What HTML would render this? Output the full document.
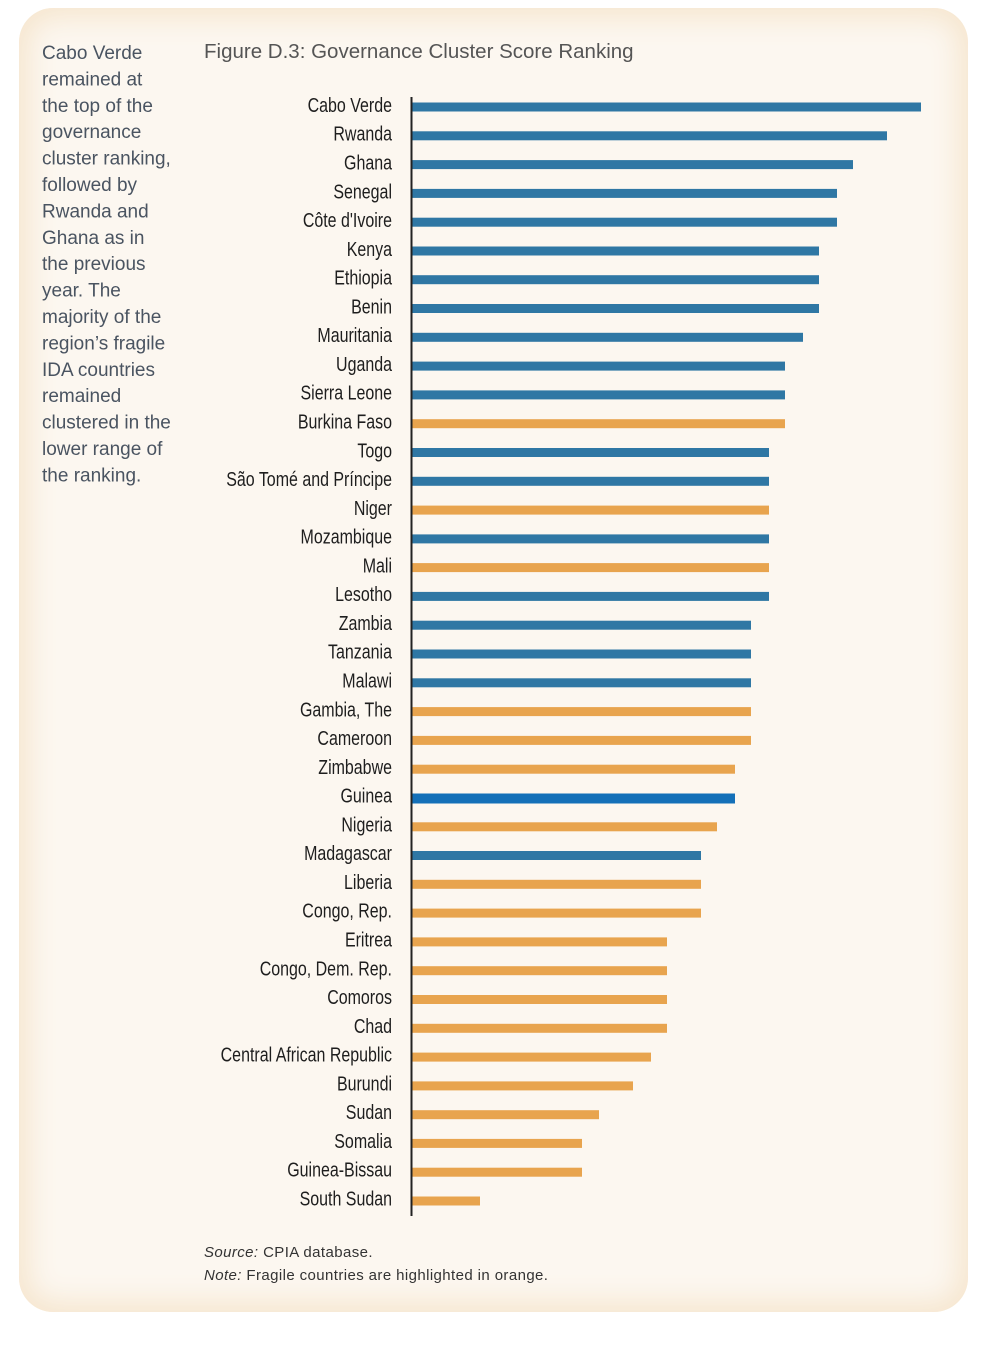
<!DOCTYPE html>
<html><head><meta charset="utf-8"><style>
html,body{margin:0;padding:0;background:#fff;}
body{width:986px;height:1351px;position:relative;overflow:hidden;}
.panel{position:absolute;left:19px;top:8px;width:949px;height:1304px;border-radius:34px;background:#fcf7f0;box-shadow:inset 0 0 28px 10px #f6e6cf;}
svg{position:absolute;left:0;top:0;}
</style></head><body>
<div class="panel"></div>
<svg width="986" height="1351" xmlns="http://www.w3.org/2000/svg" font-family="'Liberation Sans', sans-serif">
<g fill="#4a5461" font-size="19">
<text x="42" y="59">Cabo Verde</text>
<text x="42" y="85.4">remained at</text>
<text x="42" y="111.8">the top of the</text>
<text x="42" y="138.2">governance</text>
<text x="42" y="164.6">cluster ranking,</text>
<text x="42" y="191">followed by</text>
<text x="42" y="217.4">Rwanda and</text>
<text x="42" y="243.8">Ghana as in</text>
<text x="42" y="270.2">the previous</text>
<text x="42" y="296.6">year. The</text>
<text x="42" y="323">majority of the</text>
<text x="42" y="349.4">region’s fragile</text>
<text x="42" y="375.8">IDA countries</text>
<text x="42" y="402.2">remained</text>
<text x="42" y="428.6">clustered in the</text>
<text x="42" y="455">lower range of</text>
<text x="42" y="481.4">the ranking.</text>
</g>
<text x="204" y="58" fill="#555" font-size="20.5">Figure D.3: Governance Cluster Score Ranking</text>
<g fill="#2f77a4">
<rect x="412" y="102.5" width="509" height="9"/>
<rect x="412" y="131.3" width="475" height="9"/>
<rect x="412" y="160.1" width="441" height="9"/>
<rect x="412" y="188.9" width="425" height="9"/>
<rect x="412" y="217.7" width="425" height="9"/>
<rect x="412" y="246.5" width="407" height="9"/>
<rect x="412" y="275.2" width="407" height="9"/>
<rect x="412" y="304" width="407" height="9"/>
<rect x="412" y="332.8" width="391" height="9"/>
<rect x="412" y="361.6" width="373" height="9"/>
<rect x="412" y="390.4" width="373" height="9"/>
<rect x="412" y="448" width="357" height="9"/>
<rect x="412" y="476.8" width="357" height="9"/>
<rect x="412" y="534.4" width="357" height="9"/>
<rect x="412" y="591.9" width="357" height="9"/>
<rect x="412" y="620.7" width="339" height="9"/>
<rect x="412" y="649.5" width="339" height="9"/>
<rect x="412" y="678.3" width="339" height="9"/>
<rect x="412" y="851" width="289" height="9"/>
</g>
<rect x="412" y="793.5" width="323" height="10" fill="#1470b8"/>
<g fill="#e8a44e">
<rect x="412" y="419.2" width="373" height="9"/>
<rect x="412" y="505.6" width="357" height="9"/>
<rect x="412" y="563.1" width="357" height="9"/>
<rect x="412" y="707.1" width="339" height="9"/>
<rect x="412" y="735.9" width="339" height="9"/>
<rect x="412" y="764.7" width="323" height="9"/>
<rect x="412" y="822.3" width="305" height="9"/>
<rect x="412" y="879.8" width="289" height="9"/>
<rect x="412" y="908.6" width="289" height="9"/>
<rect x="412" y="937.4" width="255" height="9"/>
<rect x="412" y="966.2" width="255" height="9"/>
<rect x="412" y="995" width="255" height="9"/>
<rect x="412" y="1023.8" width="255" height="9"/>
<rect x="412" y="1052.6" width="239" height="9"/>
<rect x="412" y="1081.4" width="221" height="9"/>
<rect x="412" y="1110.2" width="187" height="9"/>
<rect x="412" y="1138.9" width="170" height="9"/>
<rect x="412" y="1167.7" width="170" height="9"/>
<rect x="412" y="1196.5" width="68" height="9"/>
</g>
<rect x="410.5" y="97" width="2" height="1119" fill="#222"/>
<g transform="translate(392,-2) scale(0.78,1.05)" fill="#1e1e1e" font-size="20.5" text-anchor="end">
<g transform="scale(1,0.952)">
<text x="0" y="114">Cabo Verde</text>
<text x="0" y="142.8">Rwanda</text>
<text x="0" y="171.6">Ghana</text>
<text x="0" y="200.4">Senegal</text>
<text x="0" y="229.2">Côte d'Ivoire</text>
<text x="0" y="258">Kenya</text>
<text x="0" y="286.7">Ethiopia</text>
<text x="0" y="315.5">Benin</text>
<text x="0" y="344.3">Mauritania</text>
<text x="0" y="373.1">Uganda</text>
<text x="0" y="401.9">Sierra Leone</text>
<text x="0" y="430.7">Burkina Faso</text>
<text x="0" y="459.5">Togo</text>
<text x="0" y="488.3">São Tomé and Príncipe</text>
<text x="0" y="517.1">Niger</text>
<text x="0" y="545.9">Mozambique</text>
<text x="0" y="574.6">Mali</text>
<text x="0" y="603.4">Lesotho</text>
<text x="0" y="632.2">Zambia</text>
<text x="0" y="661">Tanzania</text>
<text x="0" y="689.8">Malawi</text>
<text x="0" y="718.6">Gambia, The</text>
<text x="0" y="747.4">Cameroon</text>
<text x="0" y="776.2">Zimbabwe</text>
<text x="0" y="805">Guinea</text>
<text x="0" y="833.8">Nigeria</text>
<text x="0" y="862.5">Madagascar</text>
<text x="0" y="891.3">Liberia</text>
<text x="0" y="920.1">Congo, Rep.</text>
<text x="0" y="948.9">Eritrea</text>
<text x="0" y="977.7">Congo, Dem. Rep.</text>
<text x="0" y="1006.5">Comoros</text>
<text x="0" y="1035.3">Chad</text>
<text x="0" y="1064.1">Central African Republic</text>
<text x="0" y="1092.9">Burundi</text>
<text x="0" y="1121.7">Sudan</text>
<text x="0" y="1150.4">Somalia</text>
<text x="0" y="1179.2">Guinea-Bissau</text>
<text x="0" y="1208">South Sudan</text>
</g>
</g>
<g fill="#333" font-size="15" letter-spacing="0.4">
<text x="204" y="1257"><tspan font-style="italic">Source:</tspan> CPIA database.</text>
<text x="204" y="1280"><tspan font-style="italic">Note:</tspan>  Fragile countries are highlighted in orange.</text>
</g>
</svg>
</body></html>
